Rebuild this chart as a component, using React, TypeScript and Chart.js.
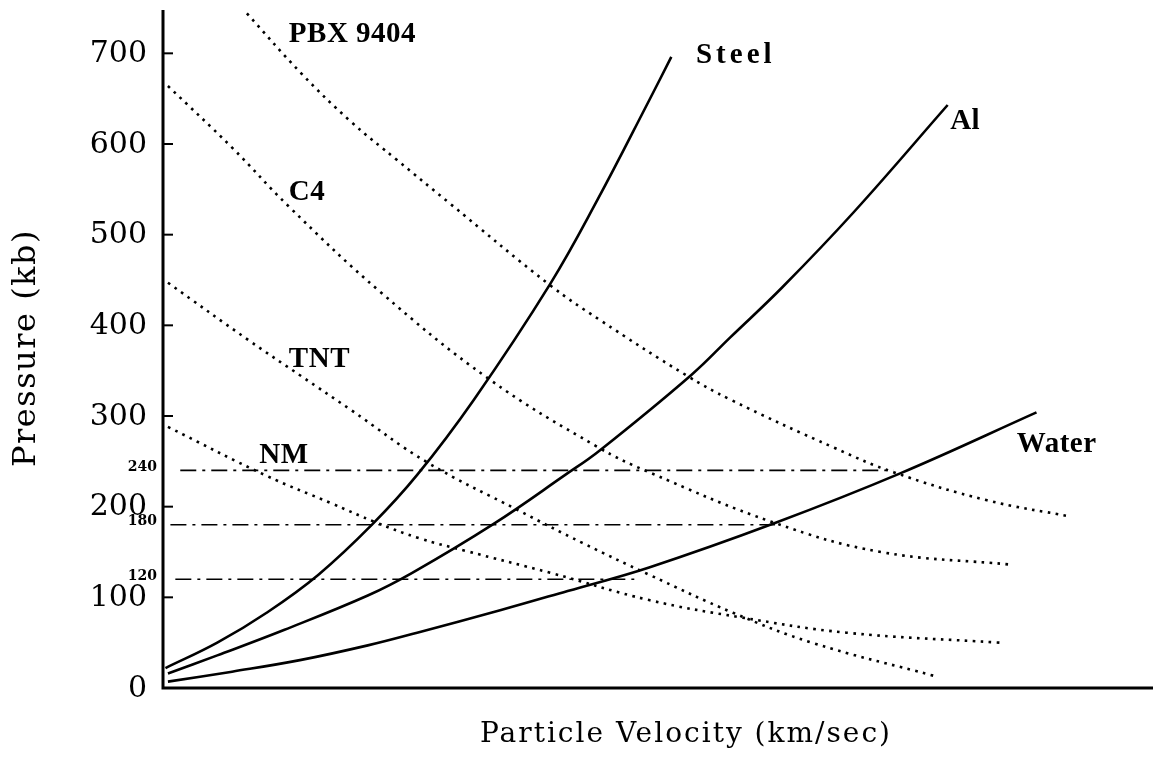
import React, { useEffect, useRef } from "react";
import { Chart, registerables } from "chart.js";

Chart.register(...registerables);

// Y axis ticks (kb)
const yTickValues = [0, 100, 200, 300, 400, 500, 600, 700];
// reference pressure levels (dash-dot lines)
const refLevels = [240, 180, 120];
const refStartX = [0.07, 0.03, 0.05];
const refEndX = [2.96, 2.48, 1.91];

// Particle velocity (arbitrary km/sec scale, no ticks in original) / pressure (kb)
const steelX = [0.01, 0.22, 0.42, 0.63, 0.85, 1.03, 1.26, 1.57, 1.76, 1.97, 2.06];
const steelY = [22, 50, 83, 125, 181, 235, 318, 446, 538, 648, 696];

const alX = [0.02, 0.22, 0.49, 0.83, 1.01, 1.34, 1.63, 1.77, 2.14, 2.3, 2.51, 2.8, 3.18];
const alY = [16, 36, 64, 102, 127, 181, 235, 262, 345, 387, 442, 525, 643];

const waterX = [0.02, 0.28, 0.56, 0.83, 1.03, 1.37, 1.64, 1.97, 2.48, 2.99, 3.54];
const waterY = [7, 18, 31, 47, 61, 86, 107, 133, 182, 237, 304];

const pbxX = [0.34, 0.56, 0.76, 0.95, 1.16, 1.57, 1.77, 2.12, 2.3, 2.72, 2.96, 3.34, 3.68];
const pbxY = [744, 678, 625, 582, 535, 444, 406, 345, 318, 265, 238, 207, 189];

const c4X = [0.02, 0.28, 0.51, 0.88, 1.32, 1.76, 1.97, 2.48, 2.91, 3.44];
const c4Y = [664, 596, 531, 437, 341, 266, 238, 182, 150, 136];

const tntX = [0.02, 0.35, 0.56, 0.76, 1.07, 1.44, 1.7, 1.97, 2.31, 2.63, 3.13];
const tntY = [447, 383, 344, 307, 249, 196, 160, 125, 83, 50, 13];

const nmX = [0.02, 0.42, 0.68, 0.86, 1.04, 1.23, 1.57, 1.97, 2.34, 2.77, 3.39];
const nmY = [288, 234, 204, 183, 165, 151, 127, 97, 78, 61, 50];

// curve labels (text, anchor in data units)
const labelText = ["PBX 9404", "Steel", "Al", "C4", "TNT", "NM", "Water"];
const labelX = [0.51, 2.16, 3.19, 0.51, 0.51, 0.39, 3.46];
const labelY = [712, 689, 617, 538, 354, 248, 260];

const toPts = (xs: number[], ys: number[]) => xs.map((x, i) => ({ x, y: ys[i] }));

export default function App() {
  const ref = useRef<HTMLCanvasElement | null>(null);

  useEffect(() => {
    document.body.style.margin = "0";
    const canvas = ref.current!;
    const solid = (label: string, xs: number[], ys: number[]) => ({
      label,
      data: toPts(xs, ys),
      borderColor: "#000",
      borderWidth: 2.6,
      pointRadius: 0,
      tension: 0.4,
      fill: false,
    });
    const dotted = (label: string, xs: number[], ys: number[]) => ({
      label,
      data: toPts(xs, ys),
      borderColor: "#000",
      borderWidth: 2.6,
      borderDash: [2.6, 5.4],
      pointRadius: 0,
      tension: 0.4,
      fill: false,
    });
    const refSets = refLevels.map((lv, i) => ({
      label: "ref" + lv,
      data: [
        { x: refStartX[i], y: lv },
        { x: refEndX[i], y: lv },
      ],
      borderColor: "#000",
      borderWidth: 1.6,
      borderDash: [16, 6, 3, 6],
      pointRadius: 0,
      fill: false,
    }));

    const overlay = {
      id: "overlay",
      afterDraw(chart: any) {
        const ctx = chart.ctx as CanvasRenderingContext2D;
        const ca = chart.chartArea;
        const xs = chart.scales.x;
        const ys = chart.scales.y;
        ctx.save();
        ctx.strokeStyle = "#000";
        ctx.fillStyle = "#000";
        // axes
        ctx.lineWidth = 3;
        ctx.beginPath();
        ctx.moveTo(ca.left, ca.top + 2);
        ctx.lineTo(ca.left, ca.bottom);
        ctx.lineTo(chart.width, ca.bottom);
        ctx.stroke();
        // tick marks (inside)
        ctx.lineWidth = 2;
        yTickValues.forEach((v) => {
          if (v === 0) return;
          const y = ys.getPixelForValue(v);
          ctx.beginPath();
          ctx.moveTo(ca.left, y);
          ctx.lineTo(ca.left + 10, y);
          ctx.stroke();
        });
        // tick labels
        ctx.font = '30px "DejaVu Serif"';
        ctx.textAlign = "right";
        ctx.textBaseline = "middle";
        yTickValues.forEach((v) => {
          ctx.fillText(String(v), ca.left - 16, ys.getPixelForValue(v) + 1);
        });
        ctx.font = 'bold 14px "DejaVu Serif"';
        refLevels.forEach((v) => {
          ctx.fillText(String(v), ca.left - 6, ys.getPixelForValue(v) - 3);
        });
        // axis titles
        (ctx as any).letterSpacing = "1.5px";
        ctx.save();
        ctx.translate(27, (ca.top + ca.bottom) / 2);
        ctx.rotate(-Math.PI / 2);
        ctx.font = '32px "DejaVu Serif"';
        ctx.textAlign = "center";
        ctx.textBaseline = "middle";
        ctx.fillText("Pressure (kb)", 0, 0);
        ctx.restore();
        (ctx as any).letterSpacing = "2px";
        ctx.font = '28px "DejaVu Serif"';
        ctx.textAlign = "center";
        ctx.textBaseline = "middle";
        ctx.fillText("Particle Velocity (km/sec)", 686, ca.bottom + 47);
        (ctx as any).letterSpacing = "0px";
        // curve labels
        ctx.font = 'bold 29px "Liberation Serif"';
        ctx.textAlign = "left";
        ctx.textBaseline = "alphabetic";
        labelText.forEach((t, i) => {
          (ctx as any).letterSpacing = t === "Steel" ? "4px" : "0.5px";
          ctx.fillText(t, xs.getPixelForValue(labelX[i]), ys.getPixelForValue(labelY[i]));
        });
        (ctx as any).letterSpacing = "0px";
        ctx.restore();
      },
    };

    const chart = new Chart(canvas, {
      type: "line",
      data: {
        datasets: [
          solid("Steel", steelX, steelY),
          solid("Al", alX, alY),
          solid("Water", waterX, waterY),
          dotted("PBX 9404", pbxX, pbxY),
          dotted("C4", c4X, c4Y),
          dotted("TNT", tntX, tntY),
          dotted("NM", nmX, nmY),
          ...refSets,
        ] as any,
      },
      options: {
        responsive: false,
        animation: false,
        devicePixelRatio: 1,
        layout: { padding: { left: 163, right: 3, top: 8, bottom: 77 } },
        plugins: { legend: { display: false }, tooltip: { enabled: false } },
        scales: {
          x: { type: "linear", min: 0, max: 4, display: false },
          y: { type: "linear", min: 0, max: 750, display: false },
        },
      },
      plugins: [overlay],
    });
    return () => chart.destroy();
  }, []);

  return (
    <div style={{ width: 1153, height: 765, background: "#fff" }}>
      <canvas ref={ref} width={1153} height={765} />
    </div>
  );
}
